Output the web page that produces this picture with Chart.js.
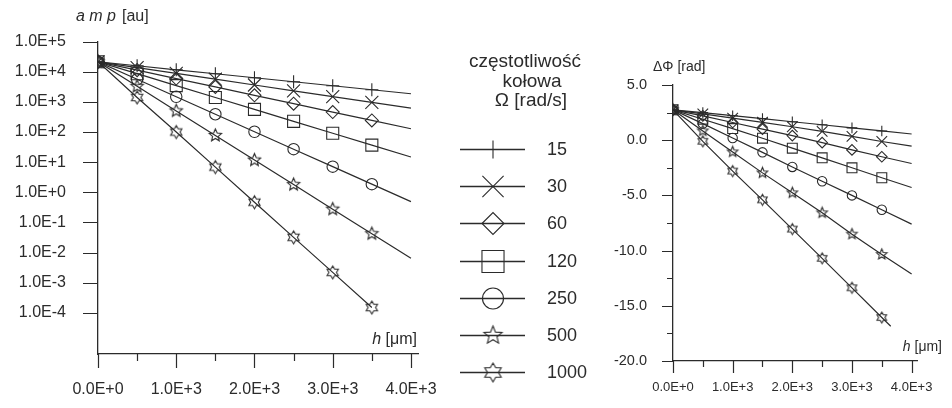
<!DOCTYPE html>
<html lang="pl">
<head>
<meta charset="UTF-8">
<title>amp i ΔΦ w funkcji h</title>
<style>
  body { margin: 0; background: #fff; }
  #wrap { position: relative; width: 952px; height: 408px; overflow: hidden; }
  #ampChart { position: absolute; left: 0; top: 0; }
  #phaseChart { position: absolute; left: 600px; top: 0; }
</style>
<script src="https://cdn.jsdelivr.net/npm/chart.js"></script>
</head>
<body>
<div id="wrap">
  <canvas id="ampChart" width="600" height="408"></canvas>
  <canvas id="phaseChart" width="352" height="408"></canvas>
</div>
<script>
// ---- data ----
const omegas = ['15', '30', '60', '120', '250', '500', '1000'];
const hSteps = [0, 500, 1000, 1500, 2000, 2500, 3000, 3500, 4000];
const hSteps1000 = [0, 500, 1000, 1500, 2000, 2500, 3000, 3500];
const hPhase1000 = [0, 500, 1000, 1500, 2000, 2500, 3000, 3500, 3650];

const amp15 = [21400, 15800, 11600, 8560, 6310, 4650, 3430, 2530, 1860];
const amp30 = [21400, 13700, 8810, 5650, 3630, 2330, 1500, 960, 617];
const amp60 = [21400, 11300, 5940, 3130, 1650, 871, 459, 242, 128];
const amp120 = [21400, 8610, 3470, 1400, 562, 226, 91.2, 36.7, 14.8];
const amp250 = [21400, 5620, 1480, 389, 102, 26.9, 7.08, 1.86, 0.49];
const amp500 = [21400, 3270, 501, 76.7, 11.7, 1.80, 0.275, 0.0422, 0.00646];
const amp1000 = [21400, 1400, 100, 6.84, 0.468, 0.032, 0.00219, 0.000150];

const ph15 = [2.75, 2.5, 2.22, 1.95, 1.67, 1.4, 1.12, 0.84, 0.56];
const ph30 = [2.75, 2.38, 2.0, 1.62, 1.22, 0.8, 0.35, -0.12, -0.54];
const ph60 = [2.75, 2.2, 1.6, 1.0, 0.42, -0.22, -0.88, -1.5, -2.11];
const ph120 = [2.75, 1.9, 1.05, 0.18, -0.72, -1.6, -2.5, -3.4, -4.28];
const ph250 = [2.75, 1.5, 0.2, -1.1, -2.42, -3.72, -5.0, -6.3, -7.6];
const ph500 = [2.75, 0.84, -1.06, -2.96, -4.77, -6.58, -8.51, -10.35, -12.13];
const ph1000 = [2.75, -0.1, -2.8, -5.4, -8.05, -10.7, -13.37, -16.06, -16.85];

const ampTicks = [1e5, 1e4, 1e3, 1e2, 1e1, 1e0, 1e-1, 1e-2, 1e-3, 1e-4];
const hTicks = [0, 500, 1000, 1500, 2000, 2500, 3000, 3500, 4000];
const phaseTicks = [5, 2.5, 0, -2.5, -5, -7.5, -10, -12.5, -15, -17.5, -20];
const legendTitle = ['częstotliwość', 'kołowa', 'Ω [rad/s]'];

// ---- styling ----
const ink = '#2b2b2b';
const family = "'Liberation Sans', Arial, Helvetica, sans-serif";
Chart.defaults.font.family = family;
Chart.defaults.color = ink;

function fmtE(v) {
  return v.toExponential(1).toUpperCase();
}

// outline stars used as markers for 500 and 1000
function makeStar(points, rOut, rIn) {
  const size = Math.ceil(rOut * 2 + 4);
  const c = document.createElement('canvas');
  c.width = size; c.height = size;
  const g = c.getContext('2d');
  const cx = size / 2, cy = size / 2;
  g.beginPath();
  for (let k = 0; k < points * 2; k++) {
    const r = k % 2 === 0 ? rOut : rIn;
    const a = -Math.PI / 2 + k * Math.PI / points;
    const px = cx + r * Math.cos(a), py = cy + r * Math.sin(a);
    if (k === 0) g.moveTo(px, py); else g.lineTo(px, py);
  }
  g.closePath();
  g.strokeStyle = ink;
  g.lineWidth = 1.1;
  g.stroke();
  return c;
}

const ampStyles = ['cross', 'crossRot', 'rectRot', 'rect', 'circle', makeStar(5, 6.5, 3), makeStar(6, 6.5, 3.8)];
const ampRadii = [6.5, 9.2, 6.5, 8.5, 5.7, 6, 6];
const phStyles = ['cross', 'crossRot', 'rectRot', 'rect', 'circle', makeStar(5, 5.5, 2.5), makeStar(6, 5.5, 3.2)];
const phRadii = [5.3, 7.5, 5.3, 7, 4.7, 5, 5];
const legStyles = ['cross', 'crossRot', 'rectRot', 'rect', 'circle', makeStar(5, 9.5, 4.2), makeStar(6, 9.5, 5.5)];
const legRadii = [9, 15, 11, 15.6, 10.5, 9, 9];

function series(i, xs, ys, styles, radii, lastX) {
  return {
    label: omegas[i],
    data: ys.map((v, k) => ({ x: xs[k], y: v })),
    borderColor: ink,
    borderWidth: 1.2,
    pointStyle: styles[i],
    pointRadius: ctx => (ctx.raw && ctx.raw.x > lastX) ? 0 : radii[i],
    pointHoverRadius: radii[i],
    pointBorderColor: ink,
    pointBackgroundColor: 'rgba(0,0,0,0)',
    pointBorderWidth: 1.1,
    tension: 0,
    fill: false
  };
}

// tick marks drawn on the library's scales (major / minor lengths)
function tickMarks(xMajor, xLen, yMajor, yLen) {
  return {
    id: 'tickMarks',
    afterDraw(chart) {
      const ctx = chart.ctx;
      const xs = chart.scales.x, ys = chart.scales.y;
      ctx.save();
      ctx.strokeStyle = ink;
      ctx.lineWidth = 1.2;
      ctx.beginPath();
      xs.ticks.forEach(t => {
        const px = Math.round(xs.getPixelForValue(t.value)) + 0.5;
        const len = xMajor(t.value) ? xLen[0] : xLen[1];
        ctx.moveTo(px, xs.top);
        ctx.lineTo(px, xs.top + len);
      });
      ys.ticks.forEach(t => {
        const py = Math.round(ys.getPixelForValue(t.value)) + 0.5;
        const len = yMajor(t.value) ? yLen[0] : yLen[1];
        ctx.moveTo(ys.right - len, py);
        ctx.lineTo(ys.right, py);
      });
      ctx.stroke();
      ctx.restore();
    }
  };
}

function hLabel(ctx, xRight, y, size) {
  ctx.font = size + 'px ' + family;
  ctx.textAlign = 'right';
  const rest = ' [μm]';
  ctx.fillText(rest, xRight, y);
  const w = ctx.measureText(rest).width;
  ctx.font = 'italic ' + size + 'px ' + family;
  ctx.fillText('h', xRight - w, y);
}

const ampExtras = {
  id: 'ampExtras',
  afterDraw(chart) {
    const ctx = chart.ctx;
    ctx.save();
    ctx.fillStyle = ink;
    ctx.textBaseline = 'middle';
    // y title
    ctx.font = 'italic 16px ' + family;
    ctx.textAlign = 'left';
    ctx.fillText('a m p', 76, 17);
    const w = ctx.measureText('a m p').width;
    ctx.font = '16px ' + family;
    ctx.fillText('[au]', 76 + w + 6, 17);
    // x title
    hLabel(ctx, 417, 340, 16);
    // legend
    ctx.textAlign = 'center';
    ctx.font = '19px ' + family;
    ctx.fillText(legendTitle[0], 525, 62);
    ctx.fillText(legendTitle[1], 532, 82);
    ctx.fillText(legendTitle[2], 531, 101);
    chart.data.datasets.forEach((ds, i) => {
      const y = Math.round(149 + i * 37.2) + 0.5;
      ctx.strokeStyle = ink;
      ctx.lineWidth = 1.3;
      ctx.beginPath();
      ctx.moveTo(460, y);
      ctx.lineTo(525, y);
      ctx.stroke();
      ctx.lineWidth = 1.1;
      ctx.fillStyle = 'rgba(0,0,0,0)';
      Chart.helpers.drawPoint(ctx, { pointStyle: legStyles[i], radius: legRadii[i], rotation: 0, borderWidth: 1 }, 493, y);
      ctx.fillStyle = ink;
      ctx.textAlign = 'left';
      ctx.font = '18px ' + family;
      ctx.fillText(ds.label, 547, y + 1);
    });
    ctx.restore();
  }
};

const phaseExtras = {
  id: 'phaseExtras',
  afterDraw(chart) {
    const ctx = chart.ctx;
    ctx.save();
    ctx.fillStyle = ink;
    ctx.textBaseline = 'middle';
    ctx.font = '14px ' + family;
    ctx.textAlign = 'left';
    ctx.fillText('ΔΦ [rad]', 53, 67);
    hLabel(ctx, 342, 347, 14);
    ctx.restore();
  }
};

// ---- amplitude chart (log) ----
new Chart(document.getElementById('ampChart'), {
  type: 'line',
  data: {
    datasets: [
      series(0, hSteps, amp15, ampStyles, ampRadii, 3500),
      series(1, hSteps, amp30, ampStyles, ampRadii, 3500),
      series(2, hSteps, amp60, ampStyles, ampRadii, 3500),
      series(3, hSteps, amp120, ampStyles, ampRadii, 3500),
      series(4, hSteps, amp250, ampStyles, ampRadii, 3500),
      series(5, hSteps, amp500, ampStyles, ampRadii, 3500),
      series(6, hSteps1000, amp1000, ampStyles, ampRadii, 3500)
    ]
  },
  options: {
    responsive: false,
    animation: false,
    devicePixelRatio: 1,
    layout: { padding: { left: 0, top: 39, right: 182, bottom: 0 } },
    plugins: { legend: { display: false }, tooltip: { enabled: false } },
    scales: {
      x: {
        type: 'linear', min: 0, max: 4090,
        afterBuildTicks: s => { s.ticks = hTicks.map(v => ({ value: v })); },
        afterFit: s => { s.height = 54; },
        ticks: { autoSkip: false, maxRotation: 0, padding: 26, color: ink, font: { size: 16 },
                 callback: v => v % 1000 === 0 ? fmtE(v) : '' },
        grid: { display: false, drawTicks: false },
        border: { display: true, color: ink, width: 1.3 }
      },
      y: {
        type: 'logarithmic', min: 4.3e-6, max: 1e5,
        afterBuildTicks: s => { s.ticks = ampTicks.map(v => ({ value: v })); },
        afterFit: s => { s.width = 98; },
        ticks: { padding: 32, color: ink, font: { size: 16 }, callback: v => fmtE(v) },
        grid: { display: false, drawTicks: false },
        border: { display: true, color: ink, width: 1.3 }
      }
    }
  },
  plugins: [tickMarks(v => v % 1000 === 0, [14, 7], () => true, [15, 15]), ampExtras]
});

// ---- phase chart ----
new Chart(document.getElementById('phaseChart'), {
  type: 'line',
  data: {
    datasets: [
      series(0, hSteps, ph15, phStyles, phRadii, 3500),
      series(1, hSteps, ph30, phStyles, phRadii, 3500),
      series(2, hSteps, ph60, phStyles, phRadii, 3500),
      series(3, hSteps, ph120, phStyles, phRadii, 3500),
      series(4, hSteps, ph250, phStyles, phRadii, 3500),
      series(5, hSteps, ph500, phStyles, phRadii, 3500),
      series(6, hPhase1000, ph1000, phStyles, phRadii, 3500)
    ]
  },
  options: {
    responsive: false,
    animation: false,
    devicePixelRatio: 1,
    layout: { padding: { left: 0, top: 85, right: 24, bottom: 0 } },
    plugins: { legend: { display: false }, tooltip: { enabled: false } },
    scales: {
      x: {
        type: 'linear', min: 0, max: 4100,
        afterBuildTicks: s => { s.ticks = hTicks.map(v => ({ value: v })); },
        afterFit: s => { s.height = 47; },
        ticks: { autoSkip: false, maxRotation: 0, padding: 19, color: ink, font: { size: 13 },
                 callback: v => v % 1000 === 0 ? fmtE(v) : '' },
        grid: { display: false, drawTicks: false },
        border: { display: true, color: ink, width: 1.3 }
      },
      y: {
        type: 'linear', min: -20, max: 5,
        afterBuildTicks: s => { s.ticks = phaseTicks.map(v => ({ value: v })); },
        afterFit: s => { s.width = 73; },
        ticks: { autoSkip: false, padding: 26, color: ink, font: { size: 14.5 },
                 callback: v => v % 5 === 0 ? v.toFixed(1) : '' },
        grid: { display: false, drawTicks: false },
        border: { display: true, color: ink, width: 1.3 }
      }
    }
  },
  plugins: [tickMarks(v => v % 1000 === 0, [12, 6], v => v % 5 === 0, [11, 6]), phaseExtras]
});
</script>
</body>
</html>
